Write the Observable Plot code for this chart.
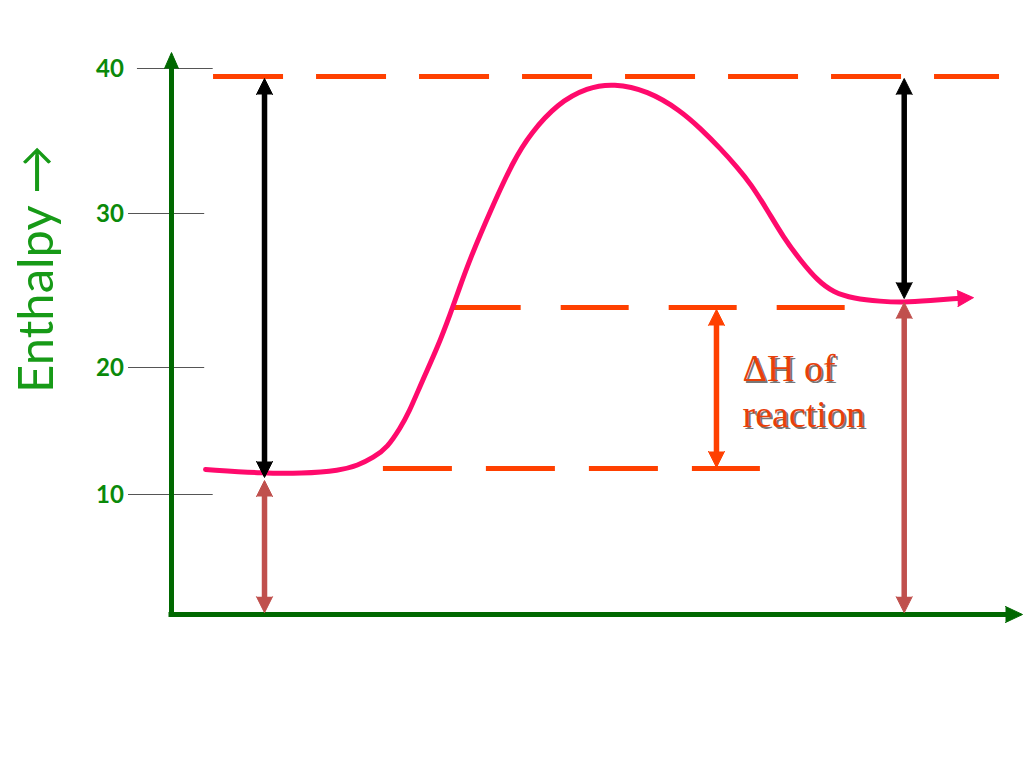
<!DOCTYPE html>
<html>
<head>
<meta charset="utf-8">
<script src="https://cdn.jsdelivr.net/npm/d3@7"></script>
<script src="https://cdn.jsdelivr.net/npm/@observablehq/plot@0.6"></script>
<style>
  html, body { margin: 0; padding: 0; background: #ffffff; }
  #chart svg { display: block; }
</style>
</head>
<body>
<div id="chart"></div>
<script>
// ---------- data ----------
const tickValues = [10, 20, 30, 40];

// reaction progress (0..100) and enthalpy of the pink reaction curve
const curveProgress = [4.00, 11.05, 15.16, 19.86, 21.86, 23.74, 25.38, 26.91, 27.85, 29.49, 31.26, 32.78, 33.73, 35.14, 37.49, 40.19, 42.19, 45.36, 48.88, 51.94, 55.94, 59.81, 62.16, 64.51, 66.51, 68.04, 70.04, 71.92, 73.91, 75.91, 77.79, 80.14, 83.31, 86.02, 89.19, 92.36];
const curveEnthalpy = [11.97, 11.65, 11.65, 11.89, 12.28, 12.91, 13.70, 15.28, 16.38, 18.98, 21.30, 23.51, 25.00, 27.14, 30.21, 33.66, 35.52, 37.59, 38.69, 38.97, 38.48, 37.10, 35.86, 34.48, 33.17, 32.07, 30.21, 28.44, 26.95, 25.65, 24.87, 24.48, 24.29, 24.22, 24.35, 24.48];

// dashed energy levels
const levelNames = ["activated complex", "products", "reactants"];
const levelEnthalpy = [39.45, 23.9, 12.05];
const levelFrom = [4.94, 33.1, 24.9];
const levelTo = [97.3, 79.2, 69.2];

// double-headed vertical arrows
const arrowNames = ["Ea forward", "Ea reverse", "H reactants", "H products", "dH"];
const arrowProgress = [10.93, 86.1, 10.93, 86.1, 64.04];
const arrowLow = [11.34, 24.48, 0.15, 0.15, 12.13];
const arrowHigh = [39.31, 39.31, 11.1, 24.22, 23.77];

const axisTop = 41.1;
const axisEnd = 100;
const yLabel = "Enthalpy \u2192";
const noteText = "\u0394H of\nreaction";
const noteProgress = 67.1;
const noteEnthalpy = 21.25;
const yLabelProgress = -13.87;
const yLabelEnthalpy = 26.4;

// ---------- styles ----------
const arrowColor = {"Ea forward": "#000000", "Ea reverse": "#000000", "H reactants": "#c0504d", "H products": "#c0504d", "dH": "#ff4000"};
const levelDash = {"activated complex": "70,33", "products": "68,40", "reactants": "69,34"};
const axisGreen = "#006800";
const textGreen = "#0a8a0a";
const levelColor = "#ff4000";
const curveColor = "#ff0a6c";

// ---------- tables ----------
const curve = curveProgress.map((x, i) => ({x, y: curveEnthalpy[i]}));
const levels = levelNames.map((name, i) => ({name, y: levelEnthalpy[i], x1: levelFrom[i], x2: levelTo[i]}));
const arrows = arrowNames.map((name, i) => ({name, x: arrowProgress[i], lo: arrowLow[i], hi: arrowHigh[i], color: arrowColor[name]}));
const arrowHeads = arrows.flatMap(a => [
  {x: a.x, y: a.hi, rot: 0, color: a.color},
  {x: a.x, y: a.lo, rot: 180, color: a.color}
]);
const lastPt = curve[curve.length - 1];

const hasSpike = typeof Plot.spike === "function";
function heads(data, o) {
  if (hasSpike) {
    return Plot.vector(data, {x: o.x, y: o.y, rotate: o.rotate, length: o.length, r: o.r, anchor: o.anchor, shape: "spike", fill: o.fill, stroke: o.fill, strokeWidth: 1});
  }
  return Plot.dot(data, {x: o.x, y: o.y, symbol: "triangle", r: o.r, fill: o.fill, rotate: o.rotate});
}

const chart = Plot.plot({
  width: 1024,
  height: 768,
  margin: 0,
  x: {type: "linear", domain: [0, 100], range: [171, 1022], axis: null},
  y: {type: "linear", domain: [0, 10, 20, 30, 40], range: [614, 494, 367, 213, 68], axis: null},
  color: {type: "identity"},
  style: {background: "#ffffff"},
  marks: [
    // tick lines
    Plot.ruleY(tickValues, {
      y: d => d,
      x1: d => d === 40 ? -4.0 : -5.05,
      x2: d => (d === 20 || d === 30) ? 3.9 : 4.9,
      stroke: "#555555", strokeWidth: 1.2
    }),
    // tick labels
    Plot.text(tickValues, {
      x: d => -5.6, y: d => d, text: d => String(d),
      textAnchor: "end", lineAnchor: "middle", dy: 1,
      fontFamily: "Lato, 'Open Sans', sans-serif", fontWeight: "bold", fontSize: 24, fill: textGreen
    }),
    // y axis title
    Plot.text([yLabel], {
      x: d => yLabelProgress, y: d => yLabelEnthalpy, text: d => d, rotate: -90,
      textAnchor: "middle", lineAnchor: "bottom",
      fontFamily: "Lato, 'DejaVu Sans', sans-serif", fontSize: 49, fill: "#179a17"
    }),
    // dashed levels
    ...levels.map(l => Plot.ruleY([l], {
      y: "y", x1: "x1", x2: "x2", stroke: levelColor, strokeWidth: 5, strokeDasharray: levelDash[l.name]
    })),
    // axes
    Plot.ruleX([0], {x: d => d, y1: d => axisTop, y2: d => 0, stroke: axisGreen, strokeWidth: 5, insetTop: 12, strokeLinecap: "square"}),
    Plot.ruleY([0], {y: d => d, x1: d => 0, x2: d => axisEnd, stroke: axisGreen, strokeWidth: 5, insetRight: 14, strokeLinecap: "square"}),
    heads([{x: 0, y: axisTop}], {x: "x", y: "y", rotate: 0, length: 16, r: 7, anchor: "end", fill: axisGreen}),
    heads([{x: axisEnd, y: 0}], {x: "x", y: "y", rotate: 90, length: 17, r: 8, anchor: "end", fill: axisGreen}),
    // reaction curve
    Plot.line(curve, {x: "x", y: "y", curve: "basis", stroke: curveColor, strokeWidth: 5, strokeLinecap: "round", strokeLinejoin: "round"}),
    heads([lastPt], {x: "x", y: "y", rotate: 87, length: 16, r: 8, anchor: "start", fill: curveColor}),
    // arrow shafts and heads
    Plot.ruleX(arrows, {x: "x", y1: "hi", y2: "lo", stroke: "color", strokeWidth: 5.5, insetTop: 12, insetBottom: 12}),
    heads(arrowHeads, {x: "x", y: "y", rotate: "rot", length: 16, r: 8, anchor: "end", fill: "color"}),
    // ΔH note with shadow
    Plot.text([noteText], {
      x: d => noteProgress, y: d => noteEnthalpy, text: d => d, dx: 2, dy: 2,
      textAnchor: "start", lineAnchor: "top", lineHeight: 1.21,
      fontFamily: "'Liberation Serif', 'DejaVu Serif', serif", fontSize: 38, fill: "#3a3a3a", fillOpacity: 0.7
    }),
    Plot.text([noteText], {
      x: d => noteProgress, y: d => noteEnthalpy, text: d => d,
      textAnchor: "start", lineAnchor: "top", lineHeight: 1.21,
      fontFamily: "'Liberation Serif', 'DejaVu Serif', serif", fontSize: 38, fill: "#e8400a"
    })
  ]
});
document.getElementById("chart").appendChild(chart);
</script>
</body>
</html>
